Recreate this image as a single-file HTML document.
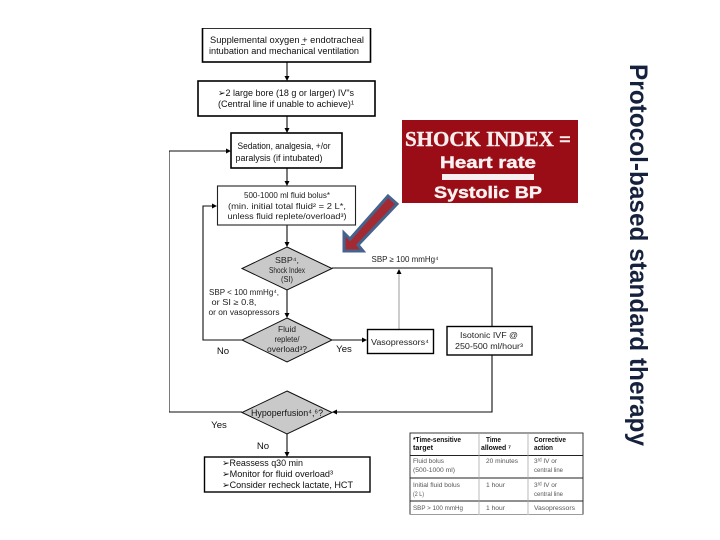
<!DOCTYPE html>
<html>
<head>
<meta charset="utf-8">
<style>
html,body{margin:0;padding:0;background:#fff;width:720px;height:540px;overflow:hidden}
svg{display:block}
text{font-family:"Liberation Sans",sans-serif;fill:#111}
.t{font-size:9.6px;text-anchor:middle;fill:#111}
.s{font-size:8px;text-anchor:middle;fill:#222}
.h{font-size:7.2px;fill:#111;font-weight:bold}
.c{font-size:6.8px;fill:#555}
.box{fill:#fff;stroke:#000;stroke-width:1.6}
.d{fill:#c9c9c9;stroke:#111;stroke-width:1}
.l{fill:none;stroke:#111;stroke-width:1.1}
.a{fill:#000}
</style>
</head>
<body>
<svg width="720" height="540" viewBox="0 0 720 540" xmlns="http://www.w3.org/2000/svg">
<defs><filter id="b" x="0" y="0" width="100%" height="100%"><feGaussianBlur stdDeviation="0.25"/></filter></defs>
<g filter="url(#b)">
<!-- connectors -->
<path class="l" d="M287 62V76M287 116V128M287 168V181M287 225V242M287 290V313"/>
<path class="a" d="M284.500 76h5l-2.500 5zM284.500 128h5l-2.500 5zM284.500 181h5l-2.500 5zM284.500 242h5l-2.500 5zM284.500 313h5l-2.500 5z"/>
<path class="l" d="M242 412H169V151H226"/>
<path class="a" d="M226 148.500v5l5-2.500z"/>
<path class="l" d="M242 340H203V206H212"/>
<path class="a" d="M212 203.500v5l5-2.500z"/>
<path class="l" d="M332 340H362"/>
<path class="a" d="M362 337.500v5l5-2.500z"/>
<path class="l" d="M332 268H492V326M492 355V412H337"/>
<path class="a" d="M337 409.500v5l-5-2.500z"/>
<path d="M399 329V274" fill="none" stroke="#999" stroke-width="1"/>
<path class="a" d="M396.500 274h5l-2.500-5z"/>
<path class="l" d="M287 434V452"/>
<path class="a" d="M284.500 452h5l-2.500 5z"/>
<!-- boxes -->
<rect class="box" x="202.500" y="28" width="168" height="34"/>
<text class="t" x="287" y="43" textLength="154" lengthAdjust="spacingAndGlyphs">Supplemental oxygen + endotracheal</text>
<path d="M301 44.500h4" stroke="#222" stroke-width=".7"/>
<text class="t" x="284" y="54" textLength="150" lengthAdjust="spacingAndGlyphs">intubation and mechanical ventilation</text>
<rect class="box" x="198" y="81" width="177" height="35"/>
<text class="t" x="286" y="96" textLength="136" lengthAdjust="spacingAndGlyphs">➢2 large bore (18 g or larger) IV"s</text>
<text class="t" x="286" y="107" textLength="136" lengthAdjust="spacingAndGlyphs">(Central line if unable to achieve)¹</text>
<rect class="box" x="231" y="133" width="111" height="35"/>
<text class="t" x="284" y="149" textLength="93" lengthAdjust="spacingAndGlyphs">Sedation, analgesia, +/or</text>
<text class="t" x="279" y="161" textLength="87" lengthAdjust="spacingAndGlyphs">paralysis (if intubated)</text>
<rect x="217.500" y="186" width="138" height="39" fill="#fff" stroke="#222" stroke-width="1.100"/>
<text class="s" x="287" y="198" font-size="8.500" textLength="86" lengthAdjust="spacingAndGlyphs">500-1000 ml fluid bolus*</text>
<text class="s" x="287" y="209" textLength="118" lengthAdjust="spacingAndGlyphs">(min. initial total fluid² = 2 L*,</text>
<text class="s" x="287" y="219" textLength="119" lengthAdjust="spacingAndGlyphs">unless fluid replete/overload³)</text>
<!-- diamonds -->
<polygon class="d" points="287,247 332,268.500 287,290 242,268.500"/>
<text class="s" x="287" y="263" textLength="24" lengthAdjust="spacingAndGlyphs">SBP⁴,</text>
<text class="s" x="287" y="273" textLength="36" lengthAdjust="spacingAndGlyphs">Shock Index</text>
<text class="s" x="287" y="282" textLength="12" lengthAdjust="spacingAndGlyphs">(SI)</text>
<polygon class="d" points="287,318 332,340 287,362 242,340"/>
<text class="s" x="287" y="332" textLength="18" lengthAdjust="spacingAndGlyphs">Fluid</text>
<text class="s" x="287" y="342" textLength="25" lengthAdjust="spacingAndGlyphs">replete/</text>
<text class="s" x="287" y="352" textLength="40" lengthAdjust="spacingAndGlyphs">overload³?</text>
<polygon class="d" points="287,391 332,412.500 287,434 242,412.500"/>
<text class="t" x="287" y="416" textLength="72" lengthAdjust="spacingAndGlyphs">Hypoperfusion⁴,⁶?</text>
<!-- labels -->
<text class="s" x="244" y="295" textLength="70" lengthAdjust="spacingAndGlyphs">SBP &lt; 100 mmHg⁴,</text>
<text class="s" x="234" y="305" textLength="45" lengthAdjust="spacingAndGlyphs">or SI ≥ 0.8,</text>
<text class="s" x="244" y="315" textLength="71" lengthAdjust="spacingAndGlyphs">or on vasopressors</text>
<text class="t" x="223" y="354">No</text>
<text class="t" x="344" y="352">Yes</text>
<text class="t" x="219" y="428">Yes</text>
<text class="t" x="263" y="449">No</text>
<text class="s" x="405" y="262" textLength="67" lengthAdjust="spacingAndGlyphs">SBP ≥ 100 mmHg⁴</text>
<rect x="367.500" y="329.500" width="66" height="24" fill="#fff" stroke="#000" stroke-width="1.400"/>
<text class="s" x="400" y="345" font-size="8.500" textLength="58" lengthAdjust="spacingAndGlyphs">Vasopressors⁴</text>
<rect x="447" y="326.500" width="85" height="28.500" fill="#fff" stroke="#000" stroke-width="1.400"/>
<text class="s" x="489" y="338" font-size="8.500" textLength="58" lengthAdjust="spacingAndGlyphs">Isotonic IVF @</text>
<text class="s" x="489" y="349" font-size="8.500" textLength="68" lengthAdjust="spacingAndGlyphs">250-500 ml/hour³</text>
<rect x="204.500" y="457" width="165.500" height="35" fill="#fff" stroke="#000" stroke-width="1.400"/>
<text x="222" y="466" font-size="9.300" textLength="81" lengthAdjust="spacingAndGlyphs">➢Reassess q30 min</text>
<text x="222" y="477" font-size="9.300" textLength="111" lengthAdjust="spacingAndGlyphs">➢Monitor for fluid overload³</text>
<text x="222" y="488" font-size="9.300" textLength="131" lengthAdjust="spacingAndGlyphs">➢Consider recheck lactate, HCT</text>
<!-- table -->
<rect x="410" y="433" width="173" height="81.500" fill="#fff" stroke="#222" stroke-width=".9"/>
<path d="M410 455.500H583M410 478H583M410 501H583" stroke="#222" stroke-width=".9"/>
<path d="M479 433V514.500M528 433V514.500" stroke="#aaa" stroke-width=".8"/>
<text class="h" x="413" y="442" textLength="48" lengthAdjust="spacingAndGlyphs">*Time-sensitive</text>
<text class="h" x="413" y="450" textLength="20" lengthAdjust="spacingAndGlyphs">target</text>
<text class="h" x="486" y="442" textLength="15" lengthAdjust="spacingAndGlyphs">Time</text>
<text class="h" x="481" y="450" textLength="30" lengthAdjust="spacingAndGlyphs">allowed ⁷</text>
<text class="h" x="534" y="442" textLength="32" lengthAdjust="spacingAndGlyphs">Corrective</text>
<text class="h" x="534" y="450" textLength="19" lengthAdjust="spacingAndGlyphs">action</text>
<text class="c" x="413" y="463" textLength="31" lengthAdjust="spacingAndGlyphs">Fluid bolus</text>
<text class="c" x="413" y="472" textLength="42" lengthAdjust="spacingAndGlyphs">(500-1000 ml)</text>
<text class="c" x="486" y="463" textLength="32" lengthAdjust="spacingAndGlyphs">20 minutes</text>
<text class="c" x="534" y="463" textLength="23" lengthAdjust="spacingAndGlyphs">3ʳᵈ IV or</text>
<text class="c" x="534" y="472" textLength="29" lengthAdjust="spacingAndGlyphs">central line</text>
<text class="c" x="413" y="487" textLength="47" lengthAdjust="spacingAndGlyphs">Initial fluid bolus</text>
<text class="c" x="413" y="496" textLength="11" lengthAdjust="spacingAndGlyphs">(2 L)</text>
<text class="c" x="486" y="487" textLength="19" lengthAdjust="spacingAndGlyphs">1 hour</text>
<text class="c" x="534" y="487" textLength="23" lengthAdjust="spacingAndGlyphs">3ʳᵈ IV or</text>
<text class="c" x="534" y="496" textLength="29" lengthAdjust="spacingAndGlyphs">central line</text>
<text class="c" x="413" y="510" textLength="50" lengthAdjust="spacingAndGlyphs">SBP &gt; 100 mmHg</text>
<text class="c" x="486" y="510" textLength="19" lengthAdjust="spacingAndGlyphs">1 hour</text>
<text class="c" x="534" y="510" textLength="41" lengthAdjust="spacingAndGlyphs">Vasopressors</text>
<!-- shock index -->
<rect x="402" y="120" width="176" height="83" fill="#9b0a12"/>
<text x="405" y="146" style="font-family:'Liberation Serif',serif;font-weight:bold;fill:#f8eeee;stroke:#f8eeee;stroke-width:.4px" font-size="21.500" textLength="166" lengthAdjust="spacingAndGlyphs">SHOCK INDEX =</text>
<text x="440" y="168" style="font-family:'Liberation Sans',sans-serif;font-weight:bold;fill:#f8f2f2;stroke:#f8f2f2;stroke-width:.4px" font-size="16.500" textLength="96" lengthAdjust="spacingAndGlyphs">Heart rate</text>
<rect x="442" y="174" width="92" height="6" fill="#f8f0f0"/>
<text x="434" y="198" style="font-family:'Liberation Sans',sans-serif;font-weight:bold;fill:#f8f2f2;stroke:#f8f2f2;stroke-width:.4px" font-size="16.500" textLength="108" lengthAdjust="spacingAndGlyphs">Systolic BP</text>
<!-- big arrow -->
<polygon points="344,251 344,233 350,239 388,196 397,204 358,245 363,251" fill="#a32c30" stroke="#44648c" stroke-width="3" stroke-linejoin="miter"/>
<!-- rotated title -->
<text transform="translate(630 64) rotate(90)" x="0" y="0" style="font-family:'Liberation Sans',sans-serif;font-weight:bold;fill:#17233d" font-size="25" textLength="382" lengthAdjust="spacingAndGlyphs">Protocol-based standard therapy</text>
</g>
</svg>
</body>
</html>
